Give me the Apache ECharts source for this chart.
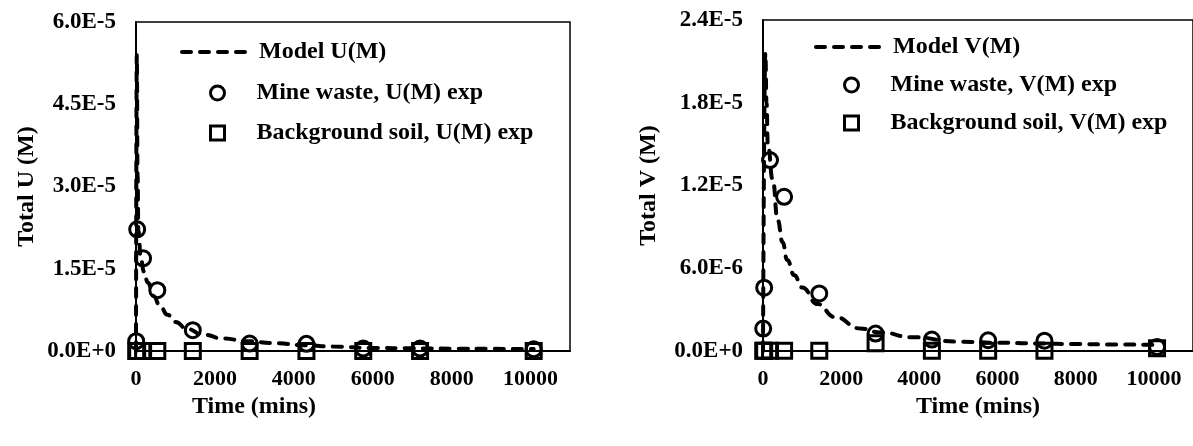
<!DOCTYPE html>
<html>
<head>
<meta charset="utf-8">
<script src="https://cdn.jsdelivr.net/npm/echarts@6/dist/echarts.min.js"></script>
<style>
  html, body { margin: 0; padding: 0; background: #fff; }
  #chart { width: 1193px; height: 446px; }
</style>
</head>
<body>
<div id="chart"></div>
<script>
// Experimental sampling times (mins)
const expTimes = [5, 30, 180, 540, 1440, 2880, 4320, 5760, 7200, 10080];

// Total U (M)
const uMineWaste  = [1.8e-6, 2.22e-5, 1.69e-5, 1.11e-5, 3.8e-6, 1.35e-6, 1.3e-6, 4.5e-7, 4.5e-7, 3.0e-7];
const uBackground = [1e-8, 1e-8, 1e-8, 1e-8, 1e-8, 1e-8, 1e-8, 1e-8, 1e-8, 1e-8];
const uModelTimes = [0, 20, 40, 60, 120, 200, 300, 450, 600, 800, 1000, 1300, 1700, 2200, 2800, 3500, 4300, 5000, 6000, 7000, 8000, 9000, 10080];
const uModel      = [0, 5.4e-5, 3.2e-5, 2.2e-5, 1.7e-5, 1.45e-5, 1.25e-5, 1.0e-5, 8.3e-6, 6.6e-6, 5.3e-6, 4.0e-6, 3.0e-6, 2.3e-6, 1.8e-6, 1.45e-6, 1.05e-6, 8.0e-7, 5.5e-7, 4.8e-7, 4.3e-7, 3.9e-7, 3.5e-7];

// Total V (M)
const vMineWaste  = [1.63e-6, 4.59e-6, 1.384e-5, 1.118e-5, 4.17e-6, 1.26e-6, 8.3e-7, 7.8e-7, 7.5e-7, 2.9e-7];
const vBackground = [1e-8, 1e-8, 1e-8, 1e-8, 1e-8, 5.6e-7, 1e-8, 1e-8, 1e-8, 2.0e-7];
const vModelTimes = [0, 60, 90, 125, 250, 375, 500, 620, 800, 1000, 1400, 1830, 2490, 3000, 3820, 4980, 6000, 7000, 8000, 9000, 10080];
const vModel      = [0, 2.16e-5, 1.8e-5, 1.49e-5, 1.24e-5, 9.5e-6, 7.9e-6, 6.6e-6, 5.5e-6, 4.6e-6, 3.4e-6, 2.47e-6, 1.63e-6, 1.35e-6, 1.0e-6, 6.8e-7, 6.0e-7, 5.5e-7, 5.0e-7, 4.7e-7, 4.4e-7];

// Axis tick labels
const uTickLabels = ['0.0E+0', '1.5E-5', '3.0E-5', '4.5E-5', '6.0E-5'];
const vTickLabels = ['0.0E+0', '6.0E-6', '1.2E-5', '1.8E-5', '2.4E-5'];

const pairs = (xs, ys) => xs.map((x, i) => [x, ys[i]]);

const FONT = 'Liberation Serif';
const black = '#000';
const clear = 'rgba(0,0,0,0)';

const xTickFont = { fontFamily: FONT, fontWeight: 'bold', fontSize: 22, color: black };
const yTickFont = { fontFamily: FONT, fontWeight: 'bold', fontSize: 23, color: black };
const titleFont = { fontFamily: FONT, fontWeight: 'bold', fontSize: 24, color: black };
const legendFont = { fontFamily: FONT, fontWeight: 'bold', fontSize: 24, color: black };
const modelLine = { color: black, width: 4, type: [9, 9], cap: 'round' };
const markerStyle = { color: clear, borderColor: black, borderWidth: 3, opacity: 1 };

function xAxisFor(gridIndex, gap, shiftLeft) {
  return {
    type: 'value', gridIndex, min: 0, max: 11000, interval: 2000,
    name: 'Time (mins)', nameLocation: 'middle', nameGap: gap,
    nameTextStyle: Object.assign({ padding: [0, shiftLeft * 2, 0, 0] }, titleFont),
    axisLine: { show: true, onZero: false, lineStyle: { color: black, width: 2 } },
    axisTick: { show: false },
    splitLine: { show: false },
    axisLabel: Object.assign({ margin: 17, showMaxLabel: false, formatter: (v) => String(v) }, xTickFont)
  };
}

function yAxisFor(gridIndex, max, interval, labels, name, gap) {
  return {
    type: 'value', gridIndex, min: 0, max, interval,
    name, nameLocation: 'middle', nameGap: gap, nameTextStyle: titleFont,
    axisLine: { show: true, lineStyle: { color: black, width: 2 } },
    axisTick: { show: false },
    splitLine: { show: false },
    axisLabel: Object.assign({ margin: 20, formatter: (v, i) => labels[i] }, yTickFont)
  };
}

function modelSeries(name, idx, xs, ys) {
  return {
    name, type: 'line', xAxisIndex: idx, yAxisIndex: idx,
    data: pairs(xs, ys), symbol: 'none', smooth: true, smoothMonotone: 'x',
    lineStyle: modelLine, itemStyle: { color: black }, z: 3
  };
}

function expSeries(name, idx, symbol, ys) {
  return {
    name, type: 'scatter', xAxisIndex: idx, yAxisIndex: idx,
    data: pairs(expTimes, ys), symbol, symbolSize: 15,
    itemStyle: markerStyle, z: 4
  };
}

// Dashed-line key entry
function lineKey(left, top, name) {
  return {
    left, top, padding: 0, itemWidth: 72, itemHeight: 14,
    data: [{ name, lineStyle: modelLine, itemStyle: { color: clear, borderColor: clear, borderWidth: 0 } }],
    textStyle: legendFont, selectedMode: false
  };
}

// Marker key entries, marker centred under the dashed sample
function markerKey(left, top, gap, names) {
  return {
    left: left + 29, top, padding: 0, orient: 'vertical', itemWidth: 14, itemHeight: 14, itemGap: gap,
    data: names.map((name) => ({ name, itemStyle: markerStyle })),
    textStyle: Object.assign({ padding: [0, 0, 0, 27] }, legendFont),
    selectedMode: false
  };
}

const option = {
  animation: false,
  backgroundColor: '#fff',
  grid: [
    { left: 136, top: 22, width: 434, height: 329, show: true, borderColor: black, borderWidth: 1.5, backgroundColor: 'transparent' },
    { left: 763, top: 20, right: -8, height: 331, show: true, borderColor: black, borderWidth: 1.5, backgroundColor: 'transparent' }
  ],
  xAxis: [xAxisFor(0, 40, 99), xAxisFor(1, 37, 0)],
  yAxis: [
    yAxisFor(0, 6e-5, 1.5e-5, uTickLabels, 'Total U (M)', 97),
    yAxisFor(1, 2.4e-5, 6e-6, vTickLabels, 'Total V (M)', 102)
  ],
  legend: [
    lineKey(180, 40, 'Model U(M)'),
    markerKey(180, 81, 16, ['Mine waste, U(M) exp', 'Background soil, U(M) exp']),
    lineKey(814, 35, 'Model V(M)'),
    markerKey(814, 73, 14, ['Mine waste, V(M) exp', 'Background soil, V(M) exp'])
  ],
  series: [
    modelSeries('Model U(M)', 0, uModelTimes, uModel),
    expSeries('Mine waste, U(M) exp', 0, 'circle', uMineWaste),
    expSeries('Background soil, U(M) exp', 0, 'rect', uBackground),
    modelSeries('Model V(M)', 1, vModelTimes, vModel),
    expSeries('Mine waste, V(M) exp', 1, 'circle', vMineWaste),
    expSeries('Background soil, V(M) exp', 1, 'rect', vBackground)
  ]
};

const chart = echarts.init(document.getElementById('chart'), null, { renderer: 'canvas' });
chart.setOption(option);
</script>
</body>
</html>
